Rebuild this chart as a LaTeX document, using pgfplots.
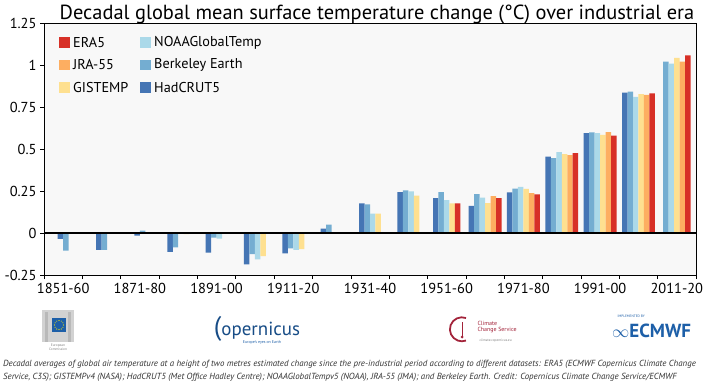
\documentclass[border=0pt]{standalone}
\usepackage{fontspec}
\setmainfont{PT Sans}
\usepackage{pgfplots}
\pgfplotsset{compat=1.18}
\usetikzlibrary{calc}
\definecolor{had}{HTML}{4575B4}
\definecolor{berk}{HTML}{74ADD1}
\definecolor{noaa}{HTML}{ABD9E9}
\definecolor{gis}{HTML}{FEE090}
\definecolor{jra}{HTML}{FDAE61}
\definecolor{era}{HTML}{D73027}
\definecolor{bgpl}{HTML}{F8F8F8}
\definecolor{ecblue}{HTML}{1D5FA8}
\definecolor{c3sred}{HTML}{A3233A}
\begin{document}
\begin{tikzpicture}[x=1bp,y=1bp]
\path[use as bounding box, fill=white] (0,0) rectangle (709,382);
\node[font=\fontsize{20.5}{22}\selectfont] at (377,368) {Decadal global mean surface temperature change (°C) over industrial era};
\begin{axis}[
  at={(44bp,107bp)}, anchor=south west, scale only axis,
  width=652bp, height=252bp,
  xmin=0, xmax=17, ymin=-0.25, ymax=1.25,
  axis background/.style={fill=bgpl},
  axis line style={black, line width=0.8pt},
  tick align=outside, tick pos=left,
  ytick={-0.25,0,0.25,0.5,0.75,1,1.25},
  yticklabels={-0.25,0,0.25,0.5,0.75,1,1.25},
  xtick={0.5,2.5,4.5,6.5,8.5,10.5,12.5,14.5,16.5},
  xticklabels={1851-60,1871-80,1891-00,1911-20,1931-40,1951-60,1971-80,1991-00,2011-20},
  major x tick style={draw=none},
  minor xtick={0,1,...,17},
  minor tick length=4bp, major tick length=4bp,
  every tick/.style={black, line width=0.6pt},
  ticklabel style={font=\fontsize{14.5}{16}\selectfont},
  xticklabel style={yshift=-1bp},
  ybar, bar width=0.143, bar shift=0pt,
  clip=false,
]
% HadCRUT5
\addplot[fill=had, draw=none] coordinates {
(0.4285,-0.035) (1.4285,-0.100) (2.4285,-0.016) (3.2855,-0.113) (4.2855,-0.117)
(5.2855,-0.187) (6.2855,-0.121) (7.2855,0.026) (8.2855,0.177) (9.2855,0.244)
(10.214,0.207) (11.1425,0.161) (12.1425,0.242) (13.1425,0.454) (14.1425,0.594)
(15.1425,0.835)};
% Berkeley Earth
\addplot[fill=berk, draw=none] coordinates {
(0.5715,-0.105) (1.5715,-0.100) (2.5715,0.014) (3.4285,-0.086) (4.4285,-0.028)
(5.4285,-0.125) (6.4285,-0.091) (7.4285,0.050) (8.4285,0.171) (9.4285,0.254)
(10.357,0.244) (11.2855,0.232) (12.2855,0.264) (13.2855,0.446) (14.2855,0.599)
(15.2855,0.841) (16.214,1.020)};
% NOAAGlobalTemp
\addplot[fill=noaa, draw=none] coordinates {
(3.5715,-0.003) (4.5715,-0.034) (5.5715,-0.157) (6.5715,-0.100) (7.5715,0.002)
(8.5715,0.115) (9.5715,0.248) (10.5,0.196) (11.4285,0.210) (12.4285,0.274)
(13.4285,0.482) (14.4285,0.595) (15.4285,0.811) (16.357,1.008)};
% GISTEMP
\addplot[fill=gis, draw=none] coordinates {
(3.7145,-0.006) (4.7145,-0.004) (5.7145,-0.137) (6.7145,-0.096) (7.7145,-0.005)
(8.7145,0.115) (9.7145,0.222) (10.643,0.176) (11.5715,0.178) (12.5715,0.263)
(13.5715,0.470) (14.5715,0.584) (15.5715,0.827) (16.5,1.042)};
% JRA-55
\addplot[fill=jra, draw=none] coordinates {
(11.7145,0.220) (12.7145,0.238) (13.7145,0.464) (14.7145,0.601) (15.7145,0.822)
(16.643,1.020)};
% ERA5
\addplot[fill=era, draw=none] coordinates {
(10.786,0.177) (11.8575,0.207) (12.8575,0.230) (13.8575,0.476) (14.8575,0.579)
(15.8575,0.831) (16.786,1.058)};
% zero line
\addplot[sharp plot, black, line width=1.1pt] coordinates {(0,0) (17,0)};
\end{axis}
% legend
\begin{scope}[font=\fontsize{14.3}{16}\selectfont]
\fill[era]  (59,334.5) rectangle ++(10.5,10.5); \node[anchor=west, inner sep=0] at (73,339.5) {ERA5};
\fill[jra]  (59,312)   rectangle ++(10.5,10.5); \node[anchor=west, inner sep=0] at (73,317) {JRA-55};
\fill[gis]  (59,289.5) rectangle ++(10.5,10.5); \node[anchor=west, inner sep=0] at (73,294.5) {GISTEMP};
\fill[noaa] (140,334.5) rectangle ++(10.5,10.5); \node[anchor=west, inner sep=0] at (154,339.5) {NOAAGlobalTemp};
\fill[berk] (140,312)   rectangle ++(10.5,10.5); \node[anchor=west, inner sep=0] at (154,317) {Berkeley Earth};
\fill[had]  (140,289.5) rectangle ++(10.5,10.5); \node[anchor=west, inner sep=0] at (154,294.5) {HadCRUT5};
\end{scope}
% logos (approximate)
\fill[gray!35] (42,40) rectangle (74,72);
\fill[gray!55] (45,40) rectangle (48,70); \fill[gray!55] (68,40) rectangle (71,70);
\fill[ecblue] (52,50) rectangle (66,64);
\foreach \a in {0,30,...,330} {\fill[yellow!90!orange] ($(59,57)+(\a:4.5)$) circle (0.6);}
\node[font=\fontsize{3.5}{4}\selectfont, align=center, text=gray] at (58,35) {European\\Commission};
\node[font=\fontsize{19}{20}\selectfont, text=ecblue!80!black, inner sep=0] at (257,53) {\fontsize{27}{27}\selectfont(\fontsize{19}{20}\selectfont opernicus};
\node[font=\fontsize{4}{5}\selectfont, text=ecblue] at (262,40) {Europe's eyes on Earth};
\draw[c3sred, line width=1.8pt] (466,64) arc (70:290:12);
\draw[c3sred, line width=0.8pt] (462,60) -- (462,46); \fill[c3sred] (462,45) circle (1.5);
\node[font=\fontsize{6}{7}\selectfont, text=c3sred, align=left, anchor=west] at (474,55) {Climate\\Change Service};
\node[font=\fontsize{3.5}{4}\selectfont, text=gray, anchor=west] at (476,41) {climate.copernicus.eu};
\node[font=\fontsize{3.5}{4}\selectfont, text=ecblue, anchor=west] at (614,66) {IMPLEMENTED BY};
\node[font=\bfseries\fontsize{19}{20}\selectfont, text=ecblue, anchor=west, inner sep=0] at (612,51) {$\mathbf{\infty}$ECMWF};
% caption
\begin{scope}[font=\itshape\fontsize{8.9}{10}\selectfont, text=black!80]
\node[anchor=west, inner sep=0] at (3,18) {Decadal averages of global air temperature at a height of two metres estimated change since the pre-industrial period according to different datasets: ERA5 (ECMWF Copernicus Climate Change};
\node[anchor=west, inner sep=0] at (3,5) {Service, C3S); GISTEMPv4 (NASA); HadCRUT5 (Met Office Hadley Centre); NOAAGlobalTempv5 (NOAA), JRA-55 (JMA); and Berkeley Earth. Credit: Copernicus Climate Change Service/ECMWF};
\end{scope}
\end{tikzpicture}
\end{document}
